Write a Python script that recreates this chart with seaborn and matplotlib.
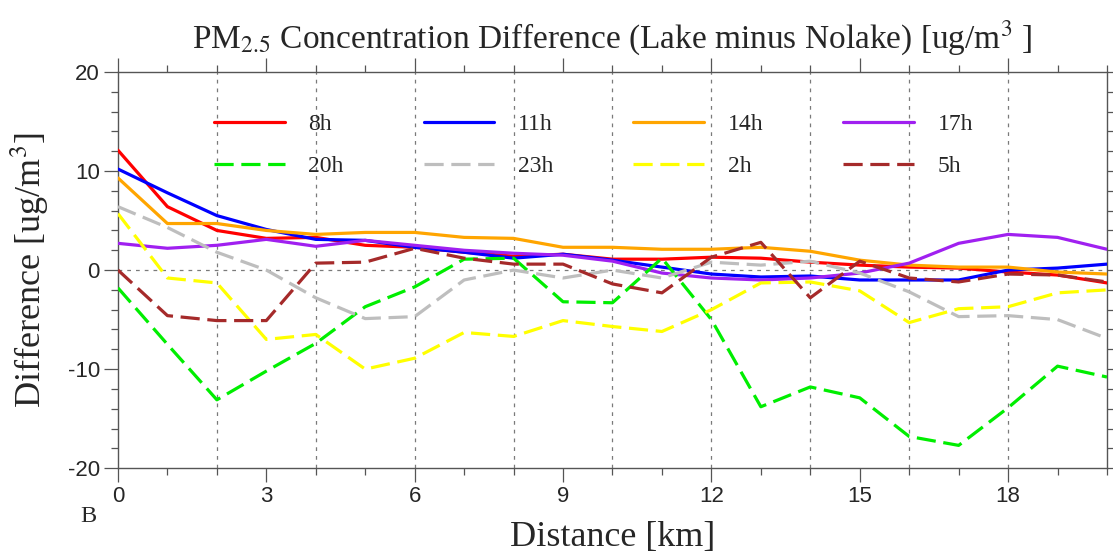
import matplotlib
matplotlib.use("Agg")
import matplotlib.pyplot as plt
from matplotlib.ticker import MultipleLocator
import seaborn as sns
import pandas as pd

distance = list(range(21))
hours = ["8h", "11h", "14h", "17h", "20h", "23h", "2h", "5h"]

h8 = [12.1, 6.4, 4.0, 3.2, 3.3, 2.5, 2.3, 1.8, 1.4, 1.6, 1.1, 1.1, 1.3, 1.2, 0.8, 0.5, 0.3, 0.2, -0.2, -0.5, -1.3]
h11 = [10.2, 7.8, 5.5, 4.1, 3.1, 3.0, 2.3, 1.8, 1.2, 1.6, 1.0, 0.3, -0.4, -0.7, -0.6, -1.0, -1.0, -1.0, 0.0, 0.2, 0.6]
h14 = [9.3, 4.7, 4.7, 4.0, 3.6, 3.8, 3.8, 3.3, 3.2, 2.3, 2.3, 2.1, 2.1, 2.3, 1.9, 1.0, 0.5, 0.3, 0.3, -0.2, -0.4]
h17 = [2.7, 2.2, 2.5, 3.1, 2.4, 3.0, 2.5, 2.0, 1.7, 1.5, 0.9, -0.3, -0.8, -1.0, -0.8, -0.3, 0.7, 2.7, 3.6, 3.3, 2.1]
h20 = [-1.8, -7.5, -13.1, -10.2, -7.4, -3.7, -1.7, 1.1, 1.2, -3.2, -3.3, 1.2, -5.0, -13.8, -11.8, -12.9, -16.8, -17.7, -13.9, -9.7, -10.8]
h23 = [6.4, 4.3, 1.8, 0.0, -2.8, -4.9, -4.7, -1.0, 0.0, -0.8, 0.0, -0.8, 0.8, 0.5, 0.9, -0.3, -2.2, -4.7, -4.6, -5.0, -6.9]
h2 = [5.7, -0.8, -1.3, -7.0, -6.5, -10.0, -8.9, -6.3, -6.7, -5.1, -5.7, -6.2, -4.0, -1.3, -1.2, -2.1, -5.3, -3.9, -3.7, -2.3, -2.0]
h5 = [0.0, -4.6, -5.1, -5.1, 0.7, 0.8, 2.2, 1.2, 0.6, 0.6, -1.4, -2.3, 1.3, 2.8, -2.8, 0.9, -0.8, -1.2, -0.4, -0.5, -1.2]

series = [h8, h11, h14, h17, h20, h23, h2, h5]
colors = ["#ff0000", "#0000ff", "#ffa500", "#a020f0", "#00ee00", "#bebebe", "#ffff00", "#a52a2a"]
dashed = [False, False, False, False, True, True, True, True]

xticks = [0, 3, 6, 9, 12, 15, 18]
yticks = [-20, -10, 0, 10, 20]

sns.set_theme(style="white")
plt.rcParams["font.family"] = ["Liberation Serif", "DejaVu Serif"]
plt.rcParams["mathtext.fontset"] = "stix"
plt.rcParams["axes.unicode_minus"] = False

fig = plt.figure(figsize=(11.13, 5.58), dpi=100)
ax = fig.add_axes([0.106, 0.161, 0.8886, 0.710])

for xv in range(2, 20, 2):
    ax.axvline(xv, color="#7a7a7a", lw=0.9, ls=(0, (3, 4)), zorder=1)
ax.axhline(0, color="#7a7a7a", lw=0.9, ls=(0, (3, 4)), zorder=1)

for name, vals, c, d in zip(hours, series, colors, dashed):
    df = pd.DataFrame({"Distance": distance, "Difference": vals})
    sns.lineplot(data=df, x="Distance", y="Difference", ax=ax, color=c, lw=2.3,
                 ls=(0, (6, 2.4)) if d else "-", label=name, zorder=3)

ax.set_xlim(0, 20)
ax.set_ylim(-20, 20)
ax.set_xticks(xticks)
ax.set_yticks(yticks)
ax.xaxis.set_minor_locator(MultipleLocator(1))
ax.yaxis.set_minor_locator(MultipleLocator(2))
ax.tick_params(which="both", direction="out", top=True, right=True,
               bottom=True, left=True, color="#555555", width=0.9)
ax.tick_params(which="major", length=10, labelsize=16, pad=3)
ax.tick_params(which="minor", length=5)
ax.tick_params(axis="x", labeltop=False)
ax.tick_params(axis="y", labelright=False)
for lab in ax.get_xticklabels() + ax.get_yticklabels():
    lab.set_family(["Liberation Sans", "DejaVu Sans"])
for sp in ax.spines.values():
    sp.set_color("#555555")
    sp.set_linewidth(1.0)

ax.set_xlabel("Distance [km]", fontsize=26, labelpad=10)
ax.set_ylabel("Difference [ug/m$^3$]", fontsize=26, labelpad=12)
ax.set_title("PM$_{2.5}$ Concentration Difference (Lake minus Nolake) [ug/m$^3$ ]",
             fontsize=24, pad=17)
fig.text(88 / 1113, 1 - 516 / 558, "B", fontsize=17.5, ha="center", va="center")

handles, labels = ax.get_legend_handles_labels()
order = [0, 4, 1, 5, 2, 6, 3, 7]
leg = ax.legend([handles[i] for i in order], [labels[i] for i in order],
                ncol=4, loc="upper left", bbox_to_anchor=(0.097, 0.895),
                frameon=False, fontsize=17, handlelength=3.0, handletextpad=1.0,
                columnspacing=3.38, labelspacing=0.86, borderpad=0, borderaxespad=0)

fig.savefig("out.png", dpi=100)
